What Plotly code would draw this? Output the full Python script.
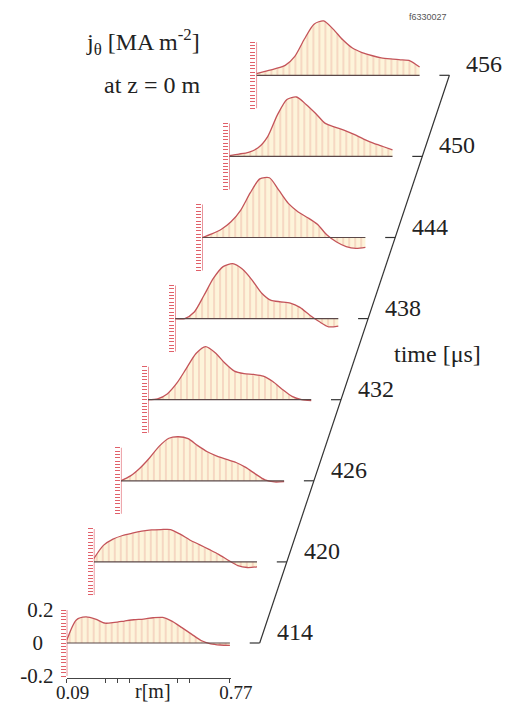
import plotly.graph_objects as go

# ---------------- data ----------------
R = [0.09, 0.13, 0.17, 0.21, 0.25, 0.29, 0.33, 0.37, 0.41, 0.45,
     0.49, 0.53, 0.57, 0.61, 0.65, 0.69, 0.73, 0.77]
TIMES = [414, 420, 426, 432, 438, 444, 450, 456]

J414 = [0.016, 0.140, 0.158, 0.145, 0.120, 0.125, 0.133, 0.141, 0.145, 0.153,
        0.155, 0.131, 0.093, 0.054, 0.015, -0.005, -0.012, -0.014]
J420 = [0.020, 0.100, 0.138, 0.160, 0.174, 0.186, 0.194, 0.196, 0.196, 0.168,
        0.133, 0.105, 0.076, 0.046, 0.010, -0.022, -0.034, -0.030]
J426 = [0.000, 0.030, 0.078, 0.140, 0.210, 0.258, 0.267, 0.255, 0.213, 0.176,
        0.150, 0.130, 0.111, 0.081, 0.042, 0.006, -0.007, -0.005]
J432 = [0.000, 0.005, 0.035, 0.100, 0.190, 0.280, 0.322, 0.285, 0.222, 0.173,
        0.158, 0.153, 0.143, 0.110, 0.062, 0.020, 0.000, -0.005]
J438 = [0.000, 0.000, 0.040, 0.140, 0.245, 0.315, 0.333, 0.300, 0.235, 0.155,
        0.110, 0.102, 0.094, 0.068, 0.022, -0.018, -0.050, -0.045]
J444 = [0.000, 0.022, 0.050, 0.095, 0.165, 0.270, 0.355, 0.362, 0.285, 0.205,
        0.155, 0.120, 0.080, 0.015, -0.027, -0.055, -0.066, -0.060]
J450 = [0.005, 0.014, 0.025, 0.052, 0.120, 0.250, 0.345, 0.360, 0.315, 0.260,
        0.200, 0.178, 0.158, 0.133, 0.105, 0.080, 0.060, 0.040]
J456 = [0.010, 0.025, 0.040, 0.060, 0.115, 0.220, 0.310, 0.330, 0.280, 0.215,
        0.165, 0.138, 0.120, 0.106, 0.099, 0.094, 0.088, 0.050]
SERIES = [J414, J420, J426, J432, J438, J444, J450, J456]

Y_TICKS = [round(-0.2 + 0.02 * k, 2) for k in range(21)]
Y_TICK_LABELS = {0.2: "0.2", 0.0: "0\u00a0\u00a0", -0.2: "-0.2"}
X_TICKS = [0.09, 0.25, 0.30, 0.35, 0.55, 0.60, 0.77]
X_TICK_LABELS = {0.09: "0.09", 0.77: "0.77"}

# ---------------- layout geometry ----------------
W, H = 513, 708
LEFT0, BASE0 = 66.7, 643.0      # pixel of (r=0.09, j=0) for first panel
STEP_X, STEP_Y = 27.1, 81.1     # pixel offset between successive panels
PX_R, PX_J = 240.0, 165.0       # pixels per metre / per MA m^-2
R_LO, R_HI = 0.09, 0.775
J_LO, J_HI = -0.21, 0.40
TAX_DX = 193.0                  # time axis offset from panel left
TICK_PX = 10.0

FONT = "Liberation Serif, Times New Roman, serif"
CURVE = "#c4545a"
FILL_BG = "#fdf4da"
HATCH = "#e3958a"
AXRED = "#e0606a"
BASE = "#5b4848"
TXT = "#222222"

fig = go.Figure()
layout = dict(width=W, height=H, margin=dict(l=0, r=0, t=0, b=0, pad=0),
              paper_bgcolor="white", plot_bgcolor="rgba(0,0,0,0)",
              showlegend=False, font=dict(family=FONT, color=TXT))
shapes = []

for i, (t, j) in enumerate(zip(TIMES, SERIES)):
    n = i + 1
    xa = "x" if n == 1 else f"x{n}"
    ya = "y" if n == 1 else f"y{n}"
    xk = "xaxis" if n == 1 else f"xaxis{n}"
    yk = "yaxis" if n == 1 else f"yaxis{n}"
    left = LEFT0 + STEP_X * i
    base = BASE0 - STEP_Y * i
    x0 = left
    x1 = left + (R_HI - R_LO) * PX_R
    ytop = base - J_HI * PX_J
    ybot = base - J_LO * PX_J

    fig.add_trace(go.Scatter(
        x=R, y=j, xaxis=xa, yaxis=ya, mode="lines",
        line=dict(color=CURVE, width=1.3, shape="spline", smoothing=0.7),
        fill="tozeroy", fillcolor=FILL_BG,
        fillpattern=dict(shape="|", fgcolor=HATCH, bgcolor=FILL_BG,
                         size=6, solidity=0.2),
        hoverinfo="skip"))

    first = (i == 0)
    layout[xk] = dict(domain=[x0 / W, x1 / W], range=[R_LO, R_HI], anchor=ya,
                      automargin=False,
                      showgrid=False, zeroline=False,
                      showline=first, linecolor="#444444", linewidth=1,
                      ticks="outside" if first else "", ticklen=4,
                      tickcolor="#444444",
                      tickvals=X_TICKS if first else [],
                      ticktext=[X_TICK_LABELS.get(v, "") for v in X_TICKS] if first else [],
                      showticklabels=first, ticklabelstandoff=-6,
                      ticklabelshift=6,
                      tickfont=dict(family=FONT, size=19, color=TXT))
    layout[yk] = dict(domain=[1 - ybot / H, 1 - ytop / H], range=[J_LO, J_HI],
                      anchor=xa, automargin=False,
                      showgrid=False, zeroline=False, showline=False,
                      ticks="outside", ticklen=5, tickwidth=1, tickcolor=AXRED,
                      tickvals=Y_TICKS,
                      ticktext=[Y_TICK_LABELS.get(v, "") for v in Y_TICKS],
                      showticklabels=first, ticklabelstandoff=3,
                      tickfont=dict(family=FONT, size=21, color=TXT))
    # red vertical axis line (-0.2 .. 0.2)
    shapes.append(dict(type="line", xref=xa, yref=ya, x0=R[0], x1=R[0],
                       y0=Y_TICKS[0], y1=Y_TICKS[-1],
                       line=dict(color=AXRED, width=1.3), layer="above"))
    # baseline
    shapes.append(dict(type="line", xref=xa, yref=ya, x0=R[0], x1=R[-1],
                       y0=0, y1=0, line=dict(color=BASE, width=1.2),
                       layer="above"))

# ---------------- oblique time axis on an overlay axis pair ----------------
t0 = TIMES[0]
tx_lo = t0 - (LEFT0 + TAX_DX) * 6 / STEP_X
tx_hi = t0 + (W - LEFT0 - TAX_DX) * 6 / STEP_X
ty_lo = t0 - (H - BASE0) * 6 / STEP_Y
ty_hi = t0 + BASE0 * 6 / STEP_Y
layout["xaxis9"] = dict(domain=[0, 1], range=[tx_lo, tx_hi], visible=False,
                        anchor="y9", automargin=False)
layout["yaxis9"] = dict(domain=[0, 1], range=[ty_lo, ty_hi], visible=False,
                        anchor="x9", automargin=False)

fig.add_trace(go.Scatter(x=TIMES, y=TIMES, xaxis="x9", yaxis="y9",
                         mode="lines", line=dict(color="#333333", width=1.2),
                         hoverinfo="skip"))
dt = TICK_PX * 6 / STEP_X
tx, ty = [], []
for t in TIMES:
    tx += [t - dt, t, None]
    ty += [t, t, None]
fig.add_trace(go.Scatter(x=tx, y=ty, xaxis="x9", yaxis="y9", mode="lines",
                         line=dict(color="#333333", width=1.2),
                         hoverinfo="skip"))

annotations = []
for t in TIMES:
    annotations.append(dict(xref="x9", yref="y9", x=t, y=t, text=str(t),
                            showarrow=False, xanchor="left", yanchor="bottom",
                            xshift=15, yshift=-4,
                            font=dict(family=FONT, size=24, color=TXT)))

annotations += [
    dict(xref="paper", yref="paper", x=202 / W, y=1 - 42 / H,
         text="j<sub>θ</sub> [MA m<sup>-2</sup>]", showarrow=False,
         xanchor="right", yanchor="middle",
         font=dict(family=FONT, size=24, color=TXT)),
    dict(xref="paper", yref="paper", x=203 / W, y=1 - 85 / H,
         text="at z = 0 m", showarrow=False, xanchor="right", yanchor="middle",
         font=dict(family=FONT, size=24, color=TXT)),
    dict(xref="paper", yref="paper", x=428 / W, y=1 - 17 / H,
         text="f6330027", showarrow=False, xanchor="center", yanchor="middle",
         font=dict(family="Liberation Sans", size=9, color="#555555")),
    dict(xref="paper", yref="paper", x=437 / W, y=1 - 354 / H,
         text="time [μs]", showarrow=False, xanchor="center", yanchor="middle",
         font=dict(family=FONT, size=24, color=TXT)),
    dict(xref="paper", yref="paper", x=153 / W, y=1 - 691 / H,
         text="r[m]", showarrow=False, xanchor="center", yanchor="middle",
         font=dict(family=FONT, size=20, color=TXT)),
]

layout["shapes"] = shapes
layout["annotations"] = annotations
fig.update_layout(**layout)
fig.write_html("out.html")
